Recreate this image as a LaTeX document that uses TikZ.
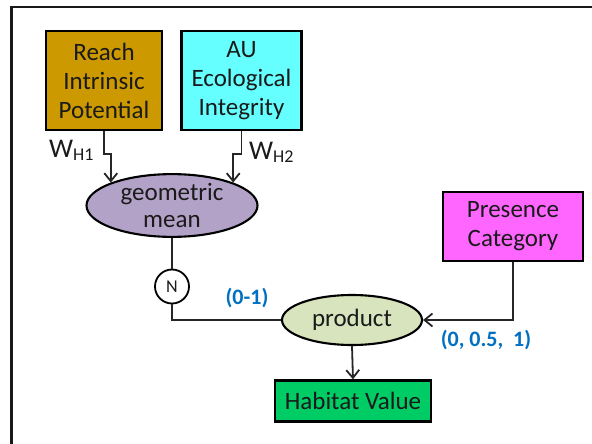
\documentclass[tikz,border=0pt]{standalone}
\usepackage{fontspec}
\setmainfont{Carlito}
\usetikzlibrary{shapes.geometric,arrows.meta}
\definecolor{reachgold}{HTML}{CC9900}
\definecolor{aucyan}{HTML}{66FFFF}
\definecolor{gmlav}{HTML}{B3A2C7}
\definecolor{prodgreen}{HTML}{D7E4BD}
\definecolor{presmag}{HTML}{FF66FF}
\definecolor{habgreen}{HTML}{00CC66}
\definecolor{rangeblue}{HTML}{0070C0}
\definecolor{txt}{HTML}{1A1A1A}
\tikzset{
  inbox/.style={draw=black, line width=2.3pt, inner sep=0pt, align=center, text=txt,
    font=\fontsize{25}{29}\selectfont},
  opnode/.style={ellipse, draw=black, line width=2.1pt, inner sep=0pt, align=center, text=txt,
    font=\fontsize{25}{27}\selectfont},
  link/.style={draw=black!85, line width=1.8pt},
  arr/.style={link, -{Straight Barb[length=8pt,width=13pt,line width=1.8pt]}},
  weight/.style={font=\fontsize{27}{27}\selectfont, text=txt, inner sep=0pt},
  rangelabel/.style={font=\bfseries\fontsize{22}{22}\selectfont, text=rangeblue, inner sep=0pt},
}
\begin{document}
\begin{tikzpicture}[x=1pt,y=-1pt]
\useasboundingbox (0,0) rectangle (592,444);
% frame edges
\draw[line width=2.5pt, black!90] (11.3,444) -- (11.3,7) -- (592,7);

% inputs
\node[inbox, fill=reachgold, minimum width=116pt, minimum height=99pt] (reach) at (104,80.5)
  {Reach\\Intrinsic\\Potential};
\node[inbox, fill=aucyan, minimum width=120pt, minimum height=99pt] (au) at (241.5,80.5)
  {AU\\Ecological\\Integrity};
\node[inbox, fill=presmag, minimum width=140pt, minimum height=69pt] (pres) at (513,226.5)
  {Presence\\Category};

% operators
\node[opnode, fill=gmlav, minimum width=171pt, minimum height=61pt] (gm) at (172,205.5)
  {geometric\\mean};
\node[circle, draw=black, line width=1.8pt, fill=white, minimum size=34pt, inner sep=0pt,
  font=\fontsize{18}{18}\selectfont, text=txt] (norm) at (172,286.5) {N};
\node[opnode, fill=prodgreen, minimum width=140pt, minimum height=50pt] (prod) at (352,320) {product};

% output
\node[inbox, fill=habgreen, minimum width=156pt, minimum height=41pt] (hab) at (353,401)
  {Habitat Value};

% weighted inputs into the geometric mean
\draw[arr] (reach.south) -- ++(0,23) -| (gm.north west);
\draw[arr] (au.south) -- ++(0,23) -| (gm.north east);
\node[weight, anchor=base west] (wh1) at (49,157) {W\textsubscript{\fontsize{18}{18}\selectfont H1}};
\node[weight, anchor=base west] (wh2) at (249,159) {W\textsubscript{\fontsize{18}{18}\selectfont H2}};

% normalised mean and presence into the product
\draw[link] (gm.south) -- (norm.north);
\draw[link] (norm.south) |- (prod.west);
\draw[arr] (pres.south) |- (prod.east);
\draw[arr] (prod.south) -- (hab.north);

% value ranges
\node[rangelabel] (r01) at (247,298) {(0-1)};
\node[rangelabel] (r3) at (486,340) {(0, 0.5,\ \ 1)};
\end{tikzpicture}
\end{document}
